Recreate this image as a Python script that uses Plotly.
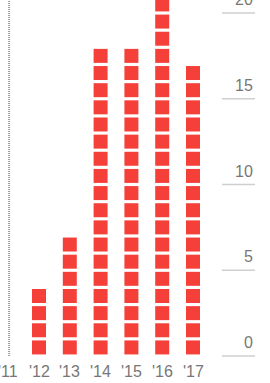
import plotly.graph_objects as go

years = ["'11", "'12", "'13", "'14", "'15", "'16", "'17"]
counts = [0, 4, 7, 18, 18, 21, 17]
y_ticks = [0, 5, 10, 15, 20]

RED = "#f5403a"
GRAY = "#777777"

xs, ys = [], []
for i, c in enumerate(counts):
    for k in range(c):
        xs.append(i)
        ys.append(k + 0.5)

fig = go.Figure()
fig.add_trace(go.Scatter(
    x=xs, y=ys, mode="markers",
    marker=dict(symbol="square", size=14, color=RED, line=dict(width=0)),
    hoverinfo="skip", showlegend=False,
))

px_unit_x = 30.8
xmin = 1 - 39 / px_unit_x
xmax = xmin + 270 / px_unit_x
px_unit_y = 17.15
base_px = 356
ymax = base_px / px_unit_y
ymin = -(383 - base_px) / px_unit_y

shapes = [dict(type="line", xref="x", yref="y", x0=0.03, x1=0.03, y0=0, y1=ymax,
               line=dict(color="#999999", width=2, dash="1px,1px"), layer="below")]
annotations = []
for t in y_ticks:
    shapes.append(dict(type="line", xref="paper", yref="y", x0=222 / 270, x1=255 / 270,
                       y0=t, y1=t, line=dict(color="#cfcfcf", width=1.5)))
    annotations.append(dict(x=255 / 270, xref="paper", y=t, yref="y", text=str(t),
                            xanchor="right", yanchor="bottom", yshift=3, showarrow=False,
                            font=dict(size=16, color=GRAY, family="Liberation Sans, Arial")))
for i, lab in enumerate(years):
    annotations.append(dict(x=i, xref="x", y=-15 / px_unit_y, yref="y", text=lab,
                            xanchor="center", yanchor="middle", showarrow=False,
                            font=dict(size=16, color=GRAY, family="Liberation Sans, Arial")))

fig.update_layout(
    width=270, height=383,
    margin=dict(l=0, r=0, t=0, b=0),
    paper_bgcolor="white", plot_bgcolor="white",
    xaxis=dict(range=[xmin, xmax], visible=False, fixedrange=True),
    yaxis=dict(range=[ymin, ymax], visible=False, fixedrange=True),
    shapes=shapes, annotations=annotations,
)
fig.write_html("out.html", config={"displayModeBar": False},
               post_script="document.body.style.margin='0';document.body.style.overflow='hidden';")
